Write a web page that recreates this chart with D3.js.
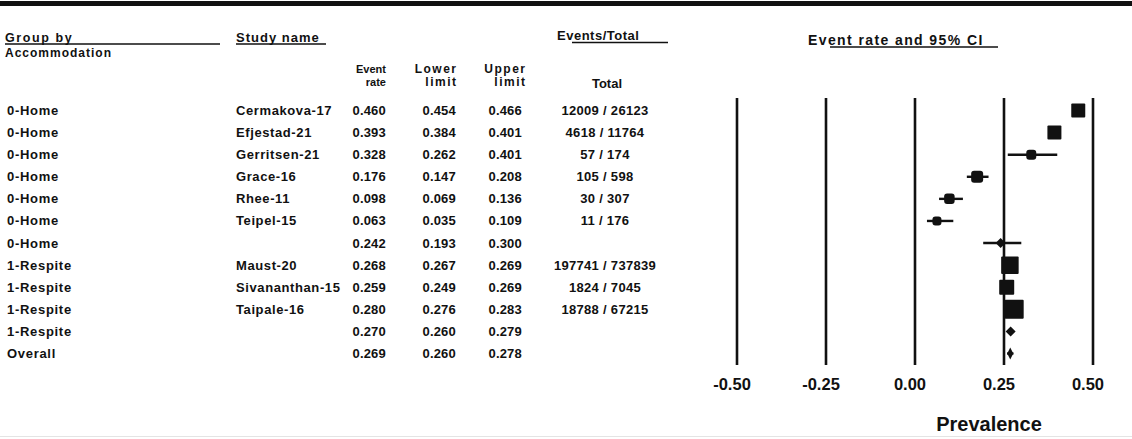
<!DOCTYPE html>
<html lang="en">
<head>
	<meta charset="UTF-8">
	<title>Forest plot</title>
	<style type="text/css">
		body { margin: 0; background: #fff; }
		svg text { font-family: "Liberation Sans", Arial, sans-serif; fill: #111; font-weight: bold; }
	</style>
</head>
<body>
	<script type="text/javascript" src="https://cdn.jsdelivr.net/npm/d3@7"></script>
	<script type="text/javascript">
		// table data
		var groups = ['0-Home', '0-Home', '0-Home', '0-Home', '0-Home', '0-Home', '0-Home',
			'1-Respite', '1-Respite', '1-Respite', '1-Respite', 'Overall'];
		var studies = ['Cermakova-17', 'Efjestad-21', 'Gerritsen-21', 'Grace-16', 'Rhee-11', 'Teipel-15', '',
			'Maust-20', 'Sivananthan-15', 'Taipale-16', '', ''];
		var rates = [0.460, 0.393, 0.328, 0.176, 0.098, 0.063, 0.242, 0.268, 0.259, 0.280, 0.270, 0.269];
		var lowers = [0.454, 0.384, 0.262, 0.147, 0.069, 0.035, 0.193, 0.267, 0.249, 0.276, 0.260, 0.260];
		var uppers = [0.466, 0.401, 0.401, 0.208, 0.136, 0.109, 0.300, 0.269, 0.269, 0.283, 0.279, 0.278];
		var events = [12009, 4618, 57, 105, 30, 11, null, 197741, 1824, 18788, null, null];
		var totals = [26123, 11764, 174, 598, 307, 176, null, 737839, 7045, 67215, null, null];
		// relative weight of each study (marker size), summaries have none
		var weights = [28, 28, 20, 24, 21, 18, null, 35, 30, 38, null, null];
		var rowKind = ['study', 'study', 'study', 'study', 'study', 'study', 'summary',
			'study', 'study', 'study', 'summary', 'overall'];
		var xTicks = [-0.5, -0.25, 0, 0.25, 0.5];

		var w = 1132;
		var h = 439;

		var svg = d3.select('body')
					.append('svg')
					.attr('width', w)
					.attr('height', h);

		// thick rule at the top
		svg.append('rect')
			.attr('x', 0).attr('y', 1)
			.attr('width', w).attr('height', 5)
			.attr('fill', '#111');
		svg.append('line')
			.attr('x1', 0).attr('x2', w)
			.attr('y1', 436.5).attr('y2', 436.5)
			.attr('stroke', '#e4e4e4');

		// headers
		function header(x, y, txt, size, anchor, ls) {
			ls = ls || 0;
			svg.append('text')
				.attr('x', anchor == 'end' ? x + ls : x)
				.attr('y', y)
				.attr('font-size', size + 'px')
				.attr('letter-spacing', ls)
				.attr('text-anchor', anchor || 'start')
				.text(txt);
		}
		function rule(x1, x2, y) {
			svg.append('line')
				.attr('x1', x1).attr('x2', x2)
				.attr('y1', y).attr('y2', y)
				.attr('stroke', '#111')
				.attr('stroke-width', 1.5);
		}
		header(5, 42, 'Group by', 12.5, 'start', 1.6);
		rule(5, 220, 44);
		header(5, 57, 'Accommodation', 12, 'start', 1);
		header(236, 42, 'Study name', 13, 'start', 1);
		rule(236, 326, 44);
		header(386, 73, 'Event', 11, 'end');
		header(386, 86, 'rate', 11, 'end');
		header(456, 73, 'Lower', 12, 'end', 1.5);
		header(456, 86, 'limit', 12, 'end', 1.5);
		header(525, 73, 'Upper', 12, 'end', 1.5);
		header(525, 86, 'limit', 12, 'end', 1.5);
		header(557, 40, 'Events/Total', 13, 'start', 0.5);
		rule(572, 668, 42.5);
		header(607, 88, 'Total', 13, 'middle');
		header(808, 45, 'Event rate and 95% CI', 14, 'start', 1.4);
		rule(830, 998, 47);

		// rows
		var idx = d3.range(groups.length);
		var y = d3.scalePoint()
					.domain(idx)
					.range([110.5, 353.5]);

		var cols = [
			{x: 7, anchor: 'start', ls: 0.7, f: function (i) { return groups[i]; }},
			{x: 236, anchor: 'start', ls: 0.6, f: function (i) { return studies[i]; }},
			{x: 386, anchor: 'end', ls: 0.2, f: function (i) { return rates[i].toFixed(3); }},
			{x: 456, anchor: 'end', ls: 0.2, f: function (i) { return lowers[i].toFixed(3); }},
			{x: 522, anchor: 'end', ls: 0.2, f: function (i) { return uppers[i].toFixed(3); }},
			{x: 605, anchor: 'middle', ls: 0.3, f: function (i) {
				return events[i] == null ? '' : events[i] + ' / ' + totals[i];
			}}
		];

		cols.forEach(function (c) {
			svg.append('g')
				.selectAll('text')
				.data(idx)
				.enter()
				.append('text')
				.attr('x', c.x)
				.attr('y', function (d) { return y(d) + 4.5; })
				.attr('font-size', '13px')
				.attr('letter-spacing', c.ls)
				.attr('text-anchor', c.anchor)
				.text(c.f);
		});

		// plot
		var x = d3.scaleLinear()
					.domain([-0.5, 0.5])
					.range([736.5, 1092.5]);
		var plotTop = 98;
		var plotBottom = 365;

		var axis = d3.axisBottom(x)
					.tickValues(xTicks)
					.tickSize(-(plotBottom - plotTop))
					.tickPadding(13)
					.tickFormat(function (d) { return d.toFixed(2); });

		var gAxis = svg.append('g')
					.attr('transform', 'translate(0,' + plotBottom + ')')
					.call(axis);
		gAxis.select('.domain').remove();
		gAxis.selectAll('line')
			.attr('stroke', '#111')
			.attr('stroke-width', 2.6);
		gAxis.selectAll('text')
			.attr('dx', -5)
			.attr('font-size', '16.5px')
			.attr('font-family', '"Liberation Sans", Arial, sans-serif')
			.attr('font-weight', 'bold')
			.attr('fill', '#111');

		svg.append('text')
			.attr('x', 989)
			.attr('y', 431)
			.attr('font-size', '20px')
			.attr('text-anchor', 'middle')
			.text('Prevalence');

		var size = d3.scaleLinear().domain([0, 40]).range([0, 20]);

		// CI lines
		svg.append('g')
			.selectAll('line')
			.data(idx)
			.enter()
			.append('line')
			.attr('x1', function (d) { return x(lowers[d]); })
			.attr('x2', function (d) { return x(uppers[d]); })
			.attr('y1', function (d) { return y(d); })
			.attr('y2', function (d) { return y(d); })
			.attr('stroke', '#111')
			.attr('stroke-width', 2.4);

		// study squares
		var studyIdx = idx.filter(function (d) { return rowKind[d] == 'study'; });
		svg.append('g')
			.selectAll('rect')
			.data(studyIdx)
			.enter()
			.append('rect')
			.attr('x', function (d) { return x(rates[d]) - size(weights[d]) / 2; })
			.attr('y', function (d) { return y(d) - size(weights[d]) / 2; })
			.attr('width', function (d) { return size(weights[d]); })
			.attr('height', function (d) { return size(weights[d]); })
			.attr('rx', function (d) { return weights[d] < 25 ? 3 : 1; })
			.attr('fill', '#111');

		// summary diamonds
		var sumIdx = idx.filter(function (d) { return rowKind[d] != 'study'; });
		svg.append('g')
			.selectAll('path')
			.data(sumIdx)
			.enter()
			.append('path')
			.attr('d', function (d) {
				var cx = x(rates[d]);
				var cy = y(d);
				var hw = rowKind[d] == 'overall' ? 3 : 5;
				var hh = rowKind[d] == 'overall' ? 6 : 5;
				return 'M' + (cx - hw) + ',' + cy + 'L' + cx + ',' + (cy - hh) +
					'L' + (cx + hw) + ',' + cy + 'L' + cx + ',' + (cy + hh) + 'Z';
			})
			.attr('fill', '#111');
	</script>
</body>
</html>
